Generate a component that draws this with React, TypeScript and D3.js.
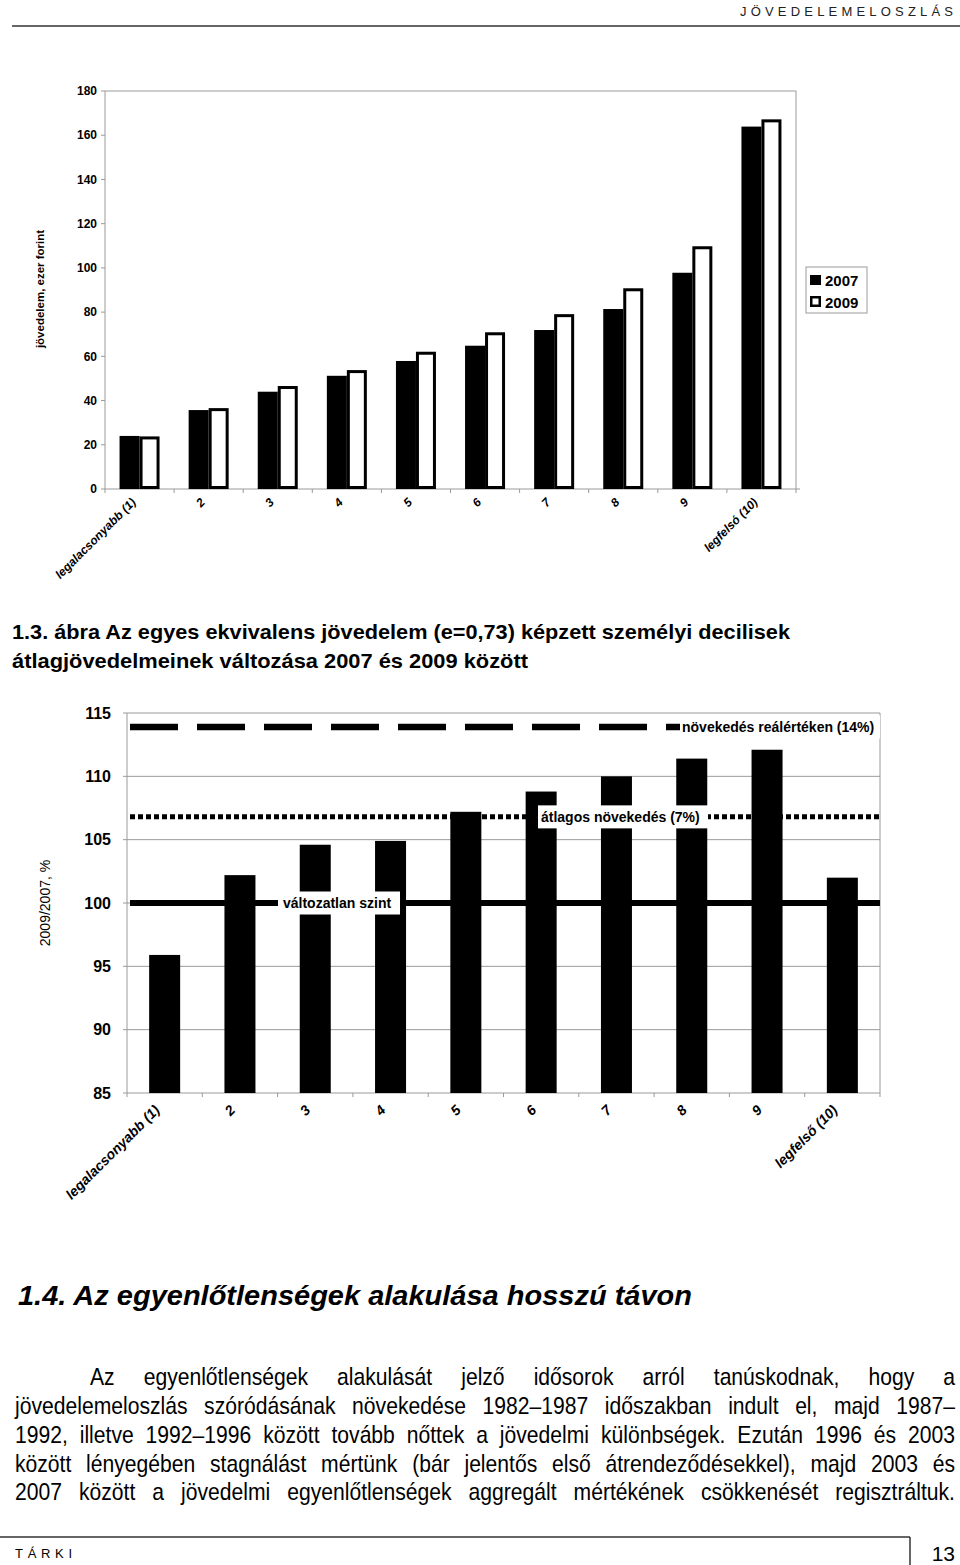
import React, { useEffect, useRef } from "react";
import * as d3 from "d3";

// ---------- DATA ----------
const DECILES_TOP = ["legalacsonyabb (1)", "2", "3", "4", "5", "6", "7", "8", "9", "legfelsó (10)"];
const DECILES_BOTTOM = ["legalacsonyabb (1)", "2", "3", "4", "5", "6", "7", "8", "9", "legfelső (10)"];
const SERIES = ["2007", "2009"];
const INCOME_2007 = [24.0, 35.7, 44.0, 51.2, 57.9, 64.8, 71.9, 81.4, 97.8, 163.9];
const INCOME_2009 = [23.1, 35.9, 45.9, 53.1, 61.4, 70.2, 78.4, 90.1, 109.1, 166.5];
const TOP_TICKS = [0, 20, 40, 60, 80, 100, 120, 140, 160, 180];

const RATIO = [95.9, 102.2, 104.6, 104.9, 107.2, 108.8, 110.0, 111.4, 112.1, 102.0];
const RATIO_TICKS = [85, 90, 95, 100, 105, 110, 115];
const REF_VALUES = [100, 106.8, 113.9];
const REF_LABELS = ["változatlan szint", "átlagos növekedés (7%)", "növekedés reálértéken (14%)"];

const HEADER = "JÖVEDELEMELOSZLÁS";
const FIG_TITLE = [
  "1.3. ábra Az egyes ekvivalens jövedelem (e=0,73) képzett személyi decilisek",
  "átlagjövedelmeinek változása 2007 és 2009 között",
];
const SECTION_TITLE = "1.4. Az egyenlőtlenségek alakulása hosszú távon";
const PARAGRAPH = [
  "Az egyenlőtlenségek alakulását jelző idősorok arról tanúskodnak, hogy a",
  "jövedelemeloszlás szóródásának növekedése 1982–1987 időszakban indult el, majd 1987–",
  "1992, illetve 1992–1996 között tovább nőttek a jövedelmi különbségek. Ezután 1996 és 2003",
  "között lényegében stagnálást mértünk (bár jelentős első átrendeződésekkel), majd 2003 és",
  "2007 között a jövedelmi egyenlőtlenségek aggregált mértékének csökkenését regisztráltuk.",
];
const FOOTER_LEFT = "TÁRKI";
const FOOTER_PAGE = "13";

const FONT = "'Liberation Sans', Arial, Helvetica, sans-serif";
const GRAY = "#9a9a9a";

function Paragraph() {
  const ref = useRef<SVGGElement>(null);
  useEffect(() => {
    const g = d3.select(ref.current);
    g.selectAll("*").remove();
    const left = 15, right = 955, indent = 90;
    const baselines = [1385, 1414, 1443, 1472, 1500];
    const sx0 = 0.88;
    PARAGRAPH.forEach((line, i) => {
      const x0 = i === 0 ? indent : left;
      const W = right - x0;
      const words = line.split(" ");
      const lg = g.append("g");
      const nodes = words.map((w) =>
        lg.append("text").attr("font-size", 24).attr("font-family", FONT).attr("fill", "#000").text(w)
      );
      const raw = nodes.map((n) => (n.node() as SVGTextElement).getComputedTextLength());
      let sx = sx0;
      let sum = d3.sum(raw) * sx;
      let gap = (W - sum) / (words.length - 1);
      if (gap < 5) {
        gap = 5;
        sx = (W - gap * (words.length - 1)) / d3.sum(raw);
        sum = d3.sum(raw) * sx;
      }
      let x = x0;
      nodes.forEach((n, k) => {
        n.attr("transform", `translate(${x},${baselines[i]}) scale(${sx},1)`);
        x += raw[k] * sx + gap;
      });
    });
  }, []);
  return <g ref={ref} />;
}

export default function App() {
  // ---------- top chart ----------
  const xTop = d3.scaleBand<string>().domain(DECILES_TOP).range([105, 796]).padding(0);
  const yTop = d3.scaleLinear().domain([0, 180]).range([489, 91]);
  const barW = 20;
  const bandTop = xTop.bandwidth();

  // ---------- bottom chart ----------
  const xBot = d3.scaleBand<string>().domain(DECILES_BOTTOM).range([127, 880]).padding(0);
  const yBot = d3.scaleLinear().domain([85, 115]).range([1093, 713]);
  const bandBot = xBot.bandwidth();
  const bw2 = 31;

  const refStyles = [
    { w: 6, dash: "none", box: { x: 278, w: 122 }, tx: 283 },
    { w: 5, dash: "5,3", box: { x: 538, w: 170 }, tx: 541 },
    { w: 6.5, dash: "48,19", box: { x: 680, w: 200 }, tx: 682 },
  ];

  return (
    <svg width={960} height={1565} style={{ position: "absolute", left: 0, top: 0, background: "#fff" }} fontFamily={FONT}>
      <rect x={0} y={0} width={960} height={1565} fill="#fff" />
      {/* header */}
      <text x={953} y={16} fontSize={13} textAnchor="end" fill="#222" textLength={213} lengthAdjust="spacing">{HEADER}</text>
      <line x1={12} x2={960} y1={26} y2={26} stroke="#333" strokeWidth={1.5} />

      {/* ===== TOP CHART ===== */}
      <g>
        <line x1={105} x2={796} y1={yTop(180)} y2={yTop(180)} stroke={GRAY} />
        <line x1={796} x2={796} y1={yTop(180)} y2={yTop(0)} stroke={GRAY} />
        <line x1={105} x2={105} y1={yTop(180)} y2={yTop(0)} stroke={GRAY} />
        <line x1={105} x2={800} y1={yTop(0)} y2={yTop(0)} stroke={GRAY} />
        {TOP_TICKS.map((t) => (
          <g key={t}>
            <line x1={101} x2={105} y1={yTop(t)} y2={yTop(t)} stroke={GRAY} />
            <text x={97} y={yTop(t)} dy="0.35em" textAnchor="end" fontSize={12} fontWeight="bold">{t}</text>
          </g>
        ))}
        {DECILES_TOP.map((d, i) => (
          <line key={"tk" + i} x1={xTop(d)!} x2={xTop(d)!} y1={yTop(0)} y2={yTop(0) + 4} stroke={GRAY} />
        ))}
        <line x1={796} x2={796} y1={yTop(0)} y2={yTop(0) + 4} stroke={GRAY} />
        {DECILES_TOP.map((d, i) => {
          const c = xTop(d)! + bandTop / 2;
          return (
            <g key={"b" + i}>
              <rect x={c - barW} y={yTop(INCOME_2007[i])} width={barW} height={yTop(0) - yTop(INCOME_2007[i])} fill="#000" />
              <rect x={c + 1.5} y={yTop(INCOME_2009[i])} width={barW - 3} height={yTop(0) - yTop(INCOME_2009[i]) - 1.5} fill="#fff" stroke="#000" strokeWidth={3} />
            </g>
          );
        })}
        {DECILES_TOP.map((d, i) => {
          const c = xTop(d)! + bandTop / 2;
          return (
            <text key={"xl" + i} transform={`translate(${c - 3},${503}) rotate(-45)`} textAnchor="end" fontSize={12} fontWeight="bold" fontStyle="italic">{d}</text>
          );
        })}
        <text transform={`translate(44,289) rotate(-90)`} textAnchor="middle" fontSize={11.5} fontWeight="bold">jövedelem, ezer forint</text>
        {/* legend */}
        <rect x={806} y={267} width={61} height={46} fill="#fff" stroke={GRAY} />
        <rect x={810} y={275} width={11} height={10} fill="#000" />
        <rect x={811.25} y={297.25} width={8.5} height={8.5} fill="#fff" stroke="#000" strokeWidth={2.5} />
        <text x={825} y={286} fontSize={15} fontWeight="bold">{SERIES[0]}</text>
        <text x={825} y={308} fontSize={15} fontWeight="bold">{SERIES[1]}</text>
      </g>

      {/* figure title */}
      <text x={12} y={639} fontSize={21} fontWeight="bold" textLength={778} lengthAdjust="spacingAndGlyphs">{FIG_TITLE[0]}</text>
      <text x={12} y={668} fontSize={21} fontWeight="bold" textLength={516} lengthAdjust="spacingAndGlyphs">{FIG_TITLE[1]}</text>

      {/* ===== BOTTOM CHART ===== */}
      <g>
        {RATIO_TICKS.map((t) => (
          <g key={"g" + t}>
            <line x1={127} x2={880} y1={yBot(t)} y2={yBot(t)} stroke={GRAY} />
            <line x1={123} x2={127} y1={yBot(t)} y2={yBot(t)} stroke={GRAY} />
            <text x={111} y={yBot(t)} dy="0.35em" textAnchor="end" fontSize={16} fontWeight="bold">{t}</text>
          </g>
        ))}
        <line x1={127} x2={127} y1={yBot(115)} y2={yBot(85)} stroke={GRAY} />
        <line x1={880} x2={880} y1={yBot(115)} y2={yBot(85)} stroke={GRAY} />
        {DECILES_BOTTOM.map((d, i) => (
          <line key={"tb" + i} x1={xBot(d)!} x2={xBot(d)!} y1={yBot(85)} y2={yBot(85) + 4} stroke={GRAY} />
        ))}
        <line x1={880} x2={880} y1={yBot(85)} y2={yBot(85) + 4} stroke={GRAY} />
        {DECILES_BOTTOM.map((d, i) => {
          const c = xBot(d)! + bandBot / 2;
          return <rect key={"rb" + i} x={c - bw2 / 2} y={yBot(RATIO[i])} width={bw2} height={yBot(85) - yBot(RATIO[i])} fill="#000" />;
        })}
        {REF_VALUES.map((v, i) => (
          <line key={"ref" + i} x1={130} x2={880} y1={yBot(v)} y2={yBot(v)} stroke="#000" strokeWidth={refStyles[i].w} strokeDasharray={refStyles[i].dash} />
        ))}
        {REF_VALUES.map((v, i) => (
          <g key={"rl" + i}>
            <rect x={refStyles[i].box.x} y={yBot(v) - 11.5} width={refStyles[i].box.w} height={23} fill="#fff" />
            <text x={refStyles[i].tx} y={yBot(v)} dy="0.36em" fontSize={14} fontWeight="bold">{REF_LABELS[i]}</text>
          </g>
        ))}
        {DECILES_BOTTOM.map((d, i) => {
          const c = xBot(d)! + bandBot / 2;
          return (
            <text key={"xb" + i} transform={`translate(${c - 4},${1111}) rotate(-45)`} textAnchor="end" fontSize={14} fontWeight="bold" fontStyle="italic">{d}</text>
          );
        })}
        <text transform={`translate(45,903) rotate(-90)`} textAnchor="middle" dy="0.35em" fontSize={14}>2009/2007, %</text>
      </g>

      {/* section title */}
      <text x={18} y={1305} fontSize={28} fontWeight="bold" fontStyle="italic" textLength={674} lengthAdjust="spacingAndGlyphs">{SECTION_TITLE}</text>

      <Paragraph />

      {/* footer */}
      <line x1={0} x2={910} y1={1537} y2={1537} stroke="#333" strokeWidth={1.5} />
      <line x1={910} x2={910} y1={1537} y2={1565} stroke="#333" strokeWidth={1.5} />
      <text x={15} y={1558} fontSize={13} textLength={57} lengthAdjust="spacing">{FOOTER_LEFT}</text>
      <text x={955} y={1561} fontSize={21} textAnchor="end">{FOOTER_PAGE}</text>
    </svg>
  );
}
